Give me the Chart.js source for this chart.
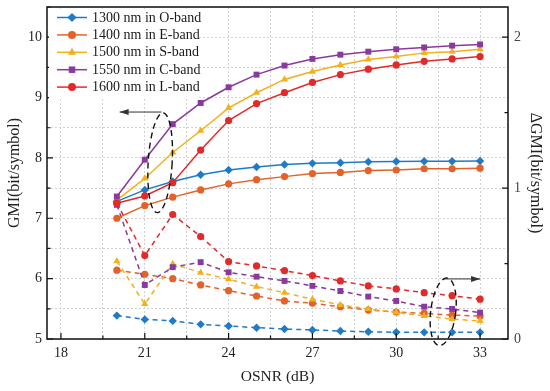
<!DOCTYPE html>
<html>
<head>
<meta charset="utf-8">
<script src="https://cdn.jsdelivr.net/npm/chart.js@4.4.0/dist/chart.umd.min.js"></script>
<style>
  html, body { margin: 0; padding: 0; background: #fff; }
  #wrap { width: 550px; height: 391px; }
</style>
</head>
<body>
<div id="wrap"><canvas id="gmiChart" width="550" height="391"></canvas></div>
<script>
// OSNR points (dB)
const osnr = [20, 21, 22, 23, 24, 25, 26, 27, 28, 29, 30, 31, 32, 33];

// GMI, left axis (bit/symbol)
const gmiO = [7.28, 7.47, 7.61, 7.72, 7.80, 7.85, 7.89, 7.91, 7.92, 7.935, 7.94, 7.945, 7.945, 7.95];
const gmiE = [7.00, 7.21, 7.35, 7.47, 7.57, 7.64, 7.69, 7.74, 7.76, 7.79, 7.80, 7.82, 7.82, 7.83];
const gmiS = [7.30, 7.66, 8.09, 8.45, 8.83, 9.08, 9.30, 9.43, 9.54, 9.63, 9.68, 9.74, 9.76, 9.80];
const gmiC = [7.36, 7.97, 8.56, 8.91, 9.17, 9.38, 9.53, 9.64, 9.71, 9.76, 9.80, 9.83, 9.86, 9.88];
const gmiL = [7.25, 7.37, 7.59, 8.13, 8.62, 8.90, 9.08, 9.25, 9.38, 9.47, 9.54, 9.60, 9.64, 9.68];

// delta GMI, right axis (bit/symbol)
const dO = [0.155, 0.13, 0.12, 0.097, 0.086, 0.075, 0.066, 0.06, 0.053, 0.048, 0.045, 0.044, 0.044, 0.044];
const dE = [0.456, 0.429, 0.40, 0.358, 0.32, 0.285, 0.252, 0.237, 0.214, 0.192, 0.179, 0.17, 0.159, 0.152];
const dS = [0.516, 0.232, 0.498, 0.44, 0.396, 0.347, 0.307, 0.263, 0.226, 0.199, 0.177, 0.153, 0.131, 0.12];
const dC = [0.889, 0.358, 0.476, 0.509, 0.442, 0.413, 0.385, 0.352, 0.318, 0.281, 0.252, 0.214, 0.199, 0.175];
const dL = [0.90, 0.553, 0.825, 0.679, 0.513, 0.484, 0.453, 0.42, 0.385, 0.352, 0.332, 0.307, 0.287, 0.264];

const bandNames = ['1300 nm in O-band', '1400 nm in E-band', '1500 nm in S-band', '1550 nm in C-band', '1600 nm in L-band'];
const bandColors = ['#1F7BC8', '#E4622A', '#F2B01E', '#8A3A9E', '#E22A2A'];
const bandMarkers = ['rectRot', 'circle', 'triangle', 'rect', 'circle'];

// axis ticks: every 1.5 dB, labels on multiples of 3
const xTicks = [18, 19.5, 21, 22.5, 24, 25.5, 27, 28.5, 30, 31.5, 33];
const xTickLabels = [18, 21, 24, 27, 30, 33];

const FONT = "'Liberation Serif', 'Times New Roman', serif";
Chart.defaults.font.family = FONT;
Chart.defaults.color = '#222';

function pts(arr) {
    return arr.map((v, i) => ({ x: osnr[i], y: v }));
}

const solid = [gmiO, gmiE, gmiS, gmiC, gmiL];
const dashed = [dO, dE, dS, dC, dL];

const datasets = [];
for (let i = 0; i < 5; i++) {
    datasets.push({
        label: bandNames[i],
        data: pts(solid[i]),
        yAxisID: 'y',
        borderColor: bandColors[i],
        backgroundColor: bandColors[i],
        borderWidth: 1.5,
        pointStyle: bandMarkers[i],
        pointRadius: bandMarkers[i] === 'circle' ? 3.6 : 4.2,
        pointBorderWidth: 0,
        order: 5 - i,
        fill: false
    });
}
for (let i = 0; i < 5; i++) {
    datasets.push({
        label: 'd ' + bandNames[i],
        data: pts(dashed[i]),
        yAxisID: 'y1',
        borderColor: bandColors[i],
        backgroundColor: bandColors[i],
        borderWidth: 1.5,
        borderDash: [5, 4],
        pointStyle: bandMarkers[i],
        pointRadius: bandMarkers[i] === 'circle' ? 3.6 : 4.2,
        pointBorderWidth: 0,
        order: 10 - i,
        fill: false
    });
}

function drawMarker(ctx, style, x, y, r) {
    ctx.beginPath();
    if (style === 'circle') {
        ctx.arc(x, y, r, 0, Math.PI * 2);
    } else if (style === 'rect') {
        const s = r * Math.SQRT1_2;
        ctx.rect(x - s, y - s, 2 * s, 2 * s);
    } else if (style === 'rectRot') {
        ctx.moveTo(x, y - r); ctx.lineTo(x + r, y); ctx.lineTo(x, y + r); ctx.lineTo(x - r, y);
        ctx.closePath();
    } else if (style === 'triangle') {
        ctx.moveTo(x, y - r); ctx.lineTo(x + r * 0.9, y + r * 0.55); ctx.lineTo(x - r * 0.9, y + r * 0.55);
        ctx.closePath();
    }
    ctx.fill();
}

function arrow(ctx, x1, y1, x2, y2) {
    ctx.beginPath();
    ctx.moveTo(x1, y1);
    ctx.lineTo(x2, y2);
    ctx.stroke();
    const dir = Math.sign(x2 - x1);
    ctx.beginPath();
    ctx.moveTo(x2, y2);
    ctx.lineTo(x2 - dir * 9, y2 - 3);
    ctx.lineTo(x2 - dir * 9, y2 + 3);
    ctx.closePath();
    ctx.fill();
}

const decorPlugin = {
    id: 'decor',
    afterDatasetsDraw(chart) {
        const ctx = chart.ctx;
        const a = chart.chartArea;
        const sx = chart.scales.x, sy = chart.scales.y, sy1 = chart.scales.y1;
        ctx.save();

        // frame
        ctx.strokeStyle = '#111';
        ctx.lineWidth = 1.5;
        ctx.strokeRect(a.left, a.top, a.right - a.left, a.bottom - a.top);

        // inward ticks
        ctx.lineWidth = 1.2;
        ctx.beginPath();
        sx.ticks.forEach(t => {
            const p = sx.getPixelForValue(t.value);
            const len = xTickLabels.includes(t.value) ? 6 : 3.5;
            ctx.moveTo(p, a.bottom); ctx.lineTo(p, a.bottom - len);
        });
        sy.ticks.forEach(t => {
            const p = sy.getPixelForValue(t.value);
            const len = Number.isInteger(t.value) ? 6 : 3.5;
            ctx.moveTo(a.left, p); ctx.lineTo(a.left + len, p);
        });
        sy1.ticks.forEach(t => {
            const p = sy1.getPixelForValue(t.value);
            const len = Number.isInteger(t.value) ? 6 : 3.5;
            ctx.moveTo(a.right, p); ctx.lineTo(a.right - len, p);
        });
        ctx.stroke();

        // dashed ellipses with arrows
        ctx.strokeStyle = '#111';
        ctx.lineWidth = 1.4;
        ctx.setLineDash([6, 4]);
        ctx.beginPath();
        ctx.ellipse(sx.getPixelForValue(21.55), sy.getPixelForValue(7.92), 12, 50, 0.06, 0, Math.PI * 2);
        ctx.stroke();
        ctx.beginPath();
        ctx.ellipse(sx.getPixelForValue(31.68), sy1.getPixelForValue(0.18), 12.5, 34, 0.12, 0, Math.PI * 2);
        ctx.stroke();
        ctx.setLineDash([]);
        ctx.strokeStyle = '#333';
        ctx.fillStyle = '#333';
        ctx.lineWidth = 1;
        arrow(ctx, sx.getPixelForValue(21.6), sy.getPixelForValue(8.76), sx.getPixelForValue(20.1), sy.getPixelForValue(8.76));
        arrow(ctx, sx.getPixelForValue(31.75), sy1.getPixelForValue(0.398), sx.getPixelForValue(33.0), sy1.getPixelForValue(0.398));

        // legend
        const lx = a.left + 6, ly = a.top + 10.5, step = 17.4;
        ctx.fillStyle = '#fff';
        ctx.fillRect(a.left + 2, a.top + 2, 150, 90);
        ctx.font = '14px ' + FONT;
        ctx.textBaseline = 'middle';
        for (let i = 0; i < 5; i++) {
            const y = ly + i * step;
            ctx.strokeStyle = bandColors[i];
            ctx.lineWidth = 1.5;
            ctx.beginPath();
            ctx.moveTo(lx + 4, y); ctx.lineTo(lx + 34, y);
            ctx.stroke();
            ctx.fillStyle = bandColors[i];
            drawMarker(ctx, bandMarkers[i], lx + 19, y, bandMarkers[i] === 'circle' ? 4 : 4.6);
            ctx.fillStyle = '#1a1a1a';
            ctx.fillText(bandNames[i], lx + 39, y + 0.5);
        }
        ctx.restore();
    }
};

const gridStyle = {
    color: '#d2d2d2',
    lineWidth: 1,
    drawTicks: false
};

function fitSide(width) {
    return s => {
        s.width = width;
        s.paddingTop = 0;
        s.paddingBottom = 0;
    };
}

new Chart(document.getElementById('gmiChart'), {
    type: 'line',
    data: { datasets: datasets },
    options: {
        responsive: false,
        animation: false,
        layout: { padding: { top: 7, left: 0, right: 0, bottom: 0 } },
        plugins: { legend: { display: false }, tooltip: { enabled: false } },
        scales: {
            x: {
                type: 'linear',
                min: 17.5,
                max: 34,
                afterFit: s => { s.height = 52; s.paddingLeft = 0; s.paddingRight = 0; },
                afterBuildTicks: s => { s.ticks = xTicks.map(v => ({ value: v })); },
                border: { display: false, dash: [2, 2] },
                grid: gridStyle,
                ticks: {
                    autoSkip: false,
                    maxRotation: 0,
                    padding: 6,
                    font: { size: 14 },
                    callback: v => xTickLabels.includes(v) ? String(v) : ''
                },
                title: { display: true, text: 'OSNR (dB)', font: { size: 15.5 }, padding: { top: 0, bottom: 5 } }
            },
            y: {
                position: 'left',
                min: 5,
                max: 10.5,
                afterFit: fitSide(47),
                border: { display: false, dash: [2, 2] },
                grid: gridStyle,
                ticks: {
                    stepSize: 0.5,
                    includeBounds: false,
                    autoSkip: false,
                    padding: 5,
                    font: { size: 14 },
                    callback: v => Number.isInteger(v) ? String(v) : ''
                },
                title: { display: true, text: 'GMI(bit/symbol)', font: { size: 16 }, padding: { top: 5, bottom: 0 } }
            },
            y1: {
                position: 'right',
                min: 0,
                max: 2.2,
                afterFit: fitSide(42),
                border: { display: false },
                grid: { drawOnChartArea: false, drawTicks: false },
                ticks: {
                    stepSize: 0.5,
                    includeBounds: false,
                    autoSkip: false,
                    padding: 6,
                    color: '#444',
                    font: { size: 14 },
                    callback: v => Number.isInteger(v) ? String(v) : ''
                },
                title: { display: true, text: 'ΔGMI(bit/symbol)', font: { size: 16 }, padding: { top: 5, bottom: 0 } }
            }
        }
    },
    plugins: [decorPlugin]
});
</script>
</body>
</html>
